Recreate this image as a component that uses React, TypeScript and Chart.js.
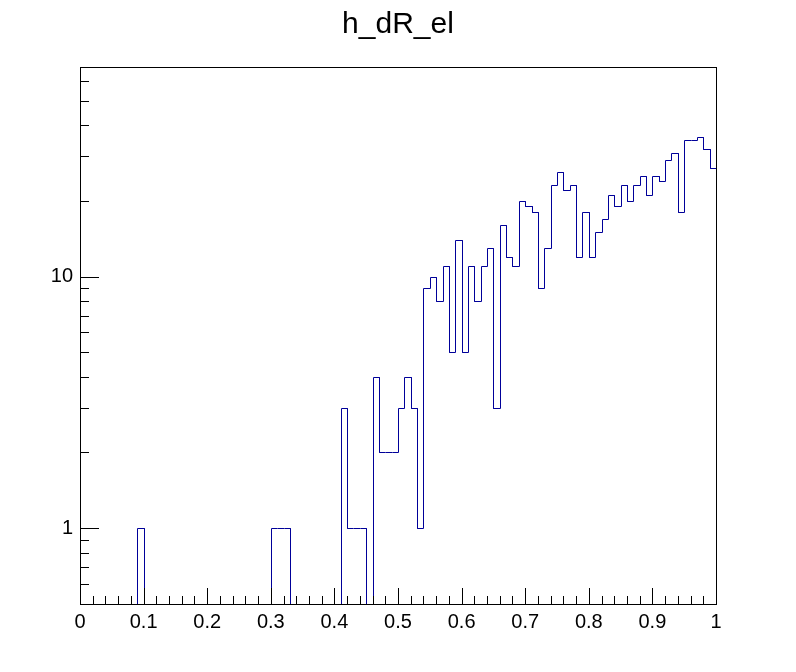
import React, { useEffect, useRef } from "react";
import { Chart, registerables } from "chart.js";

Chart.register(...registerables);

const TITLE = "h_dR_el";
const X_MIN = 0;
const X_MAX = 1;
const Y_MIN = 0.5;
const Y_MAX = 68;
const N_BINS = 100;

// bin contents for the 100 bins from 0 to 1
const binValues: number[] = [
  0, 0, 0, 0, 0, 0, 0, 0, 0, 1,
  0, 0, 0, 0, 0, 0, 0, 0, 0, 0,
  0, 0, 0, 0, 0, 0, 0, 0, 0, 0,
  1, 1, 1, 0, 0, 0, 0, 0, 0, 0,
  0, 3, 1, 1, 1, 0, 4, 2, 2, 2,
  3, 4, 3, 1, 9, 10, 8, 11, 5, 14,
  5, 11, 8, 11, 13, 3, 16, 12, 11, 20,
  19, 18, 9, 13, 23, 26, 22, 23, 12, 18,
  12, 15, 17, 21, 19, 23, 20, 23, 25, 21,
  25, 24, 29, 31, 18, 35, 35, 36, 32, 27,
];

const xMajorTicks: number[] = [0, 0.1, 0.2, 0.3, 0.4, 0.5, 0.6, 0.7, 0.8, 0.9, 1];
const xMinorTicks: number[] = [
  0.02, 0.04, 0.06, 0.08, 0.12, 0.14, 0.16, 0.18, 0.22, 0.24, 0.26, 0.28,
  0.32, 0.34, 0.36, 0.38, 0.42, 0.44, 0.46, 0.48, 0.52, 0.54, 0.56, 0.58,
  0.62, 0.64, 0.66, 0.68, 0.72, 0.74, 0.76, 0.78, 0.82, 0.84, 0.86, 0.88,
  0.92, 0.94, 0.96, 0.98,
];
const yMajorTicks: number[] = [1, 10];
const yMinorTicks: number[] = [
  0.6, 0.7, 0.8, 0.9, 2, 3, 4, 5, 6, 7, 8, 9, 20, 30, 40, 50, 60,
];
const yLabels: number[] = [1, 10];

const LINE_COLOR = "#000099";
const FONT = "Liberation Sans, Arial, Helvetica, sans-serif";

function buildOutline() {
  const pts: { x: number; y: number }[] = [];
  const w = (X_MAX - X_MIN) / N_BINS;
  for (let i = 0; i < N_BINS; i++) {
    // empty bins drop below the visible log range (clipped at the frame)
    const v = binValues[i] > 0 ? binValues[i] : Y_MIN / 4;
    const x0 = X_MIN + i * w;
    pts.push({ x: x0, y: v });
    pts.push({ x: x0 + w, y: v });
  }
  return pts;
}

// snap the scale-computed point positions to the pixel grid (crisp 1px lines)
const snapPlugin = {
  id: "snapPixels",
  afterDatasetsUpdate(chart: any) {
    const meta = chart.getDatasetMeta(0);
    for (const el of meta.data) {
      el.x = Math.round(el.x) + 0.5;
      el.y = Math.round(el.y) + 0.5;
    }
  },
};

const framePlugin = {
  id: "rootFrame",
  afterDatasetsDraw(chart: any) {
    const { ctx, chartArea, scales } = chart;
    const { left, right, top, bottom } = chartArea;
    ctx.save();
    ctx.strokeStyle = "#000";
    ctx.lineWidth = 1;
    ctx.beginPath();
    const px = (v: number) => Math.round(v) + 0.5;
    for (const t of xMajorTicks) {
      const x = px(scales.x.getPixelForValue(t));
      ctx.moveTo(x, bottom);
      ctx.lineTo(x, bottom - 16);
    }
    for (const t of xMinorTicks) {
      const x = px(scales.x.getPixelForValue(t));
      ctx.moveTo(x, bottom);
      ctx.lineTo(x, bottom - 8);
    }
    for (const t of yMajorTicks) {
      const y = px(scales.y.getPixelForValue(t));
      ctx.moveTo(left, y);
      ctx.lineTo(left + 19, y);
    }
    for (const t of yMinorTicks) {
      const y = px(scales.y.getPixelForValue(t));
      ctx.moveTo(left, y);
      ctx.lineTo(left + 9, y);
    }
    ctx.stroke();
    ctx.strokeRect(px(left), px(top), Math.round(right - left), Math.round(bottom - top));
    ctx.restore();
  },
  afterDraw(chart: any) {
    const { ctx } = chart;
    ctx.save();
    ctx.fillStyle = "#000";
    ctx.font = `30px ${FONT}`;
    ctx.textAlign = "center";
    ctx.textBaseline = "alphabetic";
    ctx.fillText(TITLE, 398, 33);
    ctx.restore();
  },
};

export default function App() {
  const canvasRef = useRef<HTMLCanvasElement | null>(null);

  useEffect(() => {
    document.body.style.margin = "0";
    const canvas = canvasRef.current;
    if (!canvas) return;
    const chart = new Chart(canvas, {
      type: "line",
      data: {
        datasets: [
          {
            label: TITLE,
            data: buildOutline(),
            borderColor: LINE_COLOR,
            borderWidth: 1,
            pointRadius: 0,
            tension: 0,
            fill: false,
            clip: 0,
          },
        ],
      },
      options: {
        responsive: false,
        animation: false,
        devicePixelRatio: 1,
        layout: { padding: { top: 67, right: 80, left: 0, bottom: 0 } },
        plugins: {
          legend: { display: false },
          title: { display: false },
          tooltip: { enabled: false },
        },
        scales: {
          x: {
            type: "linear",
            min: X_MIN,
            max: X_MAX,
            grid: { display: false, drawTicks: false },
            border: { display: false },
            afterFit(scale: any) {
              scale.height = 68;
            },
            afterBuildTicks(scale: any) {
              scale.ticks = xMajorTicks.map((v) => ({ value: v }));
            },
            ticks: {
              autoSkip: false,
              maxRotation: 0,
              minRotation: 0,
              padding: 6,
              color: "#000",
              font: { family: FONT, size: 20 },
              callback: (v: any) => String(Math.round(Number(v) * 10) / 10),
            },
          },
          y: {
            type: "logarithmic",
            min: Y_MIN,
            max: Y_MAX,
            grid: { display: false, drawTicks: false },
            border: { display: false },
            afterFit(scale: any) {
              scale.width = 80;
            },
            afterBuildTicks(scale: any) {
              scale.ticks = yLabels.map((v) => ({ value: v }));
            },
            ticks: {
              autoSkip: false,
              padding: 7,
              color: "#000",
              font: { family: FONT, size: 20 },
              callback: (v: any) => String(v),
            },
          },
        },
      },
      plugins: [snapPlugin, framePlugin],
    });
    return () => chart.destroy();
  }, []);

  return (
    <div style={{ width: 796, height: 672, background: "#fff" }}>
      <canvas ref={canvasRef} width={796} height={672} style={{ display: "block" }} />
    </div>
  );
}
